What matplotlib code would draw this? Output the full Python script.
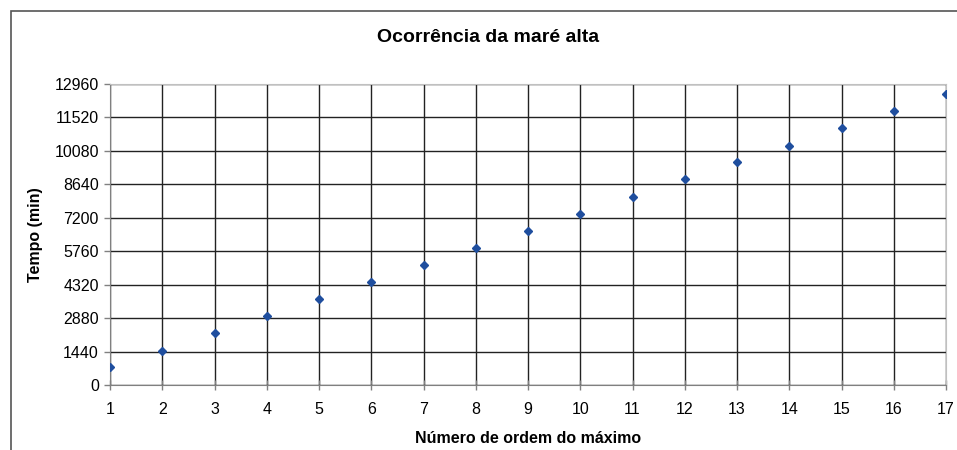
"""Ocorrência da maré alta - scatter of high tide times."""
import matplotlib.pyplot as plt
from matplotlib.patches import Rectangle

plt.rcParams["font.family"] = ["Liberation Sans", "DejaVu Sans"]

ordem = list(range(1, 18))
tempo = [787, 1461, 2248, 2966, 3710, 4428, 5188, 5902, 6633,
         7350, 8111, 8855, 9586, 10304, 11047, 11808, 12509]
y_ticks = [0, 1440, 2880, 4320, 5760, 7200, 8640, 10080, 11520, 12960]

W, H = 957, 450
fig = plt.figure(figsize=(W / 100, H / 100), dpi=100)
ax = fig.add_axes([110 / W, 1 - 385 / H, (946 - 110) / W, (385 - 84) / H])

ax.plot(ordem, tempo, "D", color="#1f4e9e", ms=4.5, mec="#1f4e9e", zorder=3)

ax.set_xlim(1, 17)
ax.set_ylim(0, 12960)
ax.set_xticks(ordem)
ax.set_yticks(y_ticks)
ax.grid(True, color="#222222", lw=1.0)
ax.tick_params(axis="x", direction="inout", length=7, width=1, color="#808080",
               labelsize=11.5, pad=8.5)
ax.tick_params(axis="y", direction="out", length=4, width=1, color="#808080",
               labelsize=11.5, pad=4)
for s in ("left", "bottom"):
    ax.spines[s].set_color("#808080")
for s in ("top", "right"):
    ax.spines[s].set_color("#c0c0c0")
ax.set_xlabel("Número de ordem do máximo", fontsize=11.5, fontweight="bold", labelpad=10.5)
ax.set_ylabel("Tempo (min)", fontsize=11.5, fontweight="bold", labelpad=8)

fig.text(488 / W, 1 - 37 / H, "Ocorrência da maré alta", ha="center", va="center",
         fontsize=14, fontweight="bold")

# chart area border (left and top edges visible in the original crop)
fig.patches.append(Rectangle((10.5 / W, -0.1), 1.2, 1 - 11 / H + 0.1,
                             transform=fig.transFigure, fill=False,
                             ec="#555555", lw=1.2))

fig.savefig("out.png", dpi=100)
